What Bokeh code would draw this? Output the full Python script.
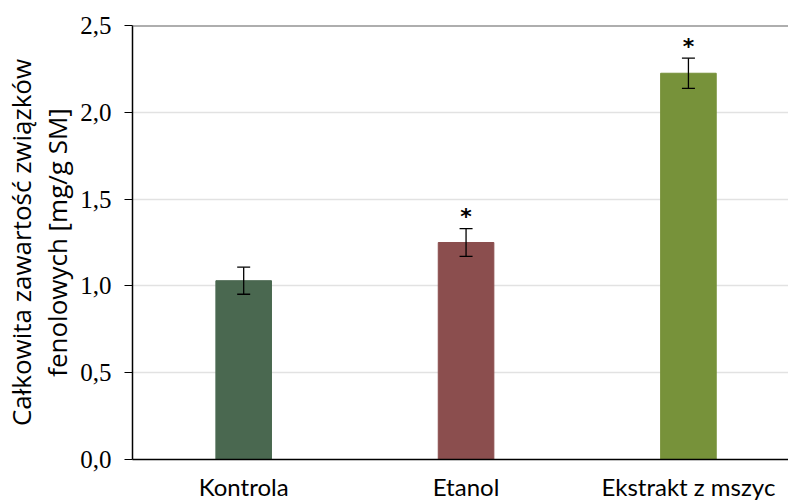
from bokeh.plotting import figure
from bokeh.models import ColumnDataSource, Whisker, TeeHead, Span, FixedTicker, Range1d
from bokeh.core.properties import value
from bokeh.embed import file_html
from bokeh.resources import INLINE

categories = ["Kontrola", "Etanol", "Ekstrakt z mszyc"]
means = [1.03, 1.25, 2.225]
errors = [0.078, 0.08, 0.087]
significant = ["", "*", "*"]
colors = ["#4a6850", "#8b4e4e", "#77923a"]
y_ticks = [0.0, 0.5, 1.0, 1.5, 2.0, 2.5]
y_tick_labels = ["0,0", "0,5", "1,0", "1,5", "2,0", "2,5"]

xs = list(range(len(categories)))
src = ColumnDataSource(dict(
    x=xs, top=means, color=colors,
    upper=[m + e for m, e in zip(means, errors)],
    lower=[m - e for m, e in zip(means, errors)],
    star=significant,
))

p = figure(width=788, height=503, output_backend="svg", toolbar_location=None,
           x_range=Range1d(-0.5, 2.45), y_range=Range1d(0, 2.5),
           min_border_left=132, min_border_right=0, min_border_top=25, min_border_bottom=44)
p.outline_line_color = None
p.background_fill_color = "white"

p.vbar(x="x", top="top", width=0.25, color="color", source=src)
p.add_layout(Whisker(base="x", upper="upper", lower="lower", source=src, level="overlay",
                     line_color="black", line_width=1.3,
                     upper_head=TeeHead(size=13, line_color="black", line_width=1.3),
                     lower_head=TeeHead(size=13, line_color="black", line_width=1.3)))
p.text(x="x", y="upper", text="star", source=src, text_align="center",
       text_baseline="middle", y_offset=-12, text_font_size="22px",
       text_font=value("DejaVu Sans"), text_font_style="bold", text_color="black")

p.add_layout(Span(location=2.5, dimension="width", line_color="#5e5e5e", line_width=2))

p.xgrid.grid_line_color = None
p.ygrid.grid_line_color = "#e2e2e2"
p.ygrid.grid_line_width = 1.5

p.xaxis.ticker = FixedTicker(ticks=xs)
p.xaxis.major_label_overrides = {i: c for i, c in zip(xs, categories)}
p.xaxis.major_tick_line_color = None
p.xaxis.minor_tick_line_color = None
p.xaxis.axis_line_color = "black"
p.xaxis.axis_line_width = 1.5
p.xaxis.major_label_text_font = "Lato"
p.xaxis.major_label_text_font_size = "24px"
p.xaxis.major_label_text_color = "black"
p.xaxis.major_label_standoff = 6

p.yaxis.ticker = FixedTicker(ticks=y_ticks)
p.yaxis.major_label_overrides = {t: l for t, l in zip(y_ticks, y_tick_labels)}
p.yaxis.minor_tick_line_color = None
p.yaxis.major_tick_in = 0
p.yaxis.major_tick_out = 8
p.yaxis.major_tick_line_color = "black"
p.yaxis.axis_line_color = "black"
p.yaxis.axis_line_width = 1.5
p.yaxis.major_label_text_font = "Liberation Serif"
p.yaxis.major_label_text_font_size = "25px"
p.yaxis.major_label_text_color = "black"
p.yaxis.major_label_standoff = 13
p.yaxis.axis_label = "Całkowita zawartość związków\nfenolowych [mg/g SM]"
p.yaxis.axis_label_text_font = "Open Sans"
p.yaxis.axis_label_text_font_size = "26px"
p.yaxis.axis_label_text_line_height = 1.0
p.yaxis.axis_label_text_font_style = "normal"
p.yaxis.axis_label_text_color = "black"
p.yaxis.axis_label_standoff = 2

open("out.html", "w").write(file_html(p, INLINE))
